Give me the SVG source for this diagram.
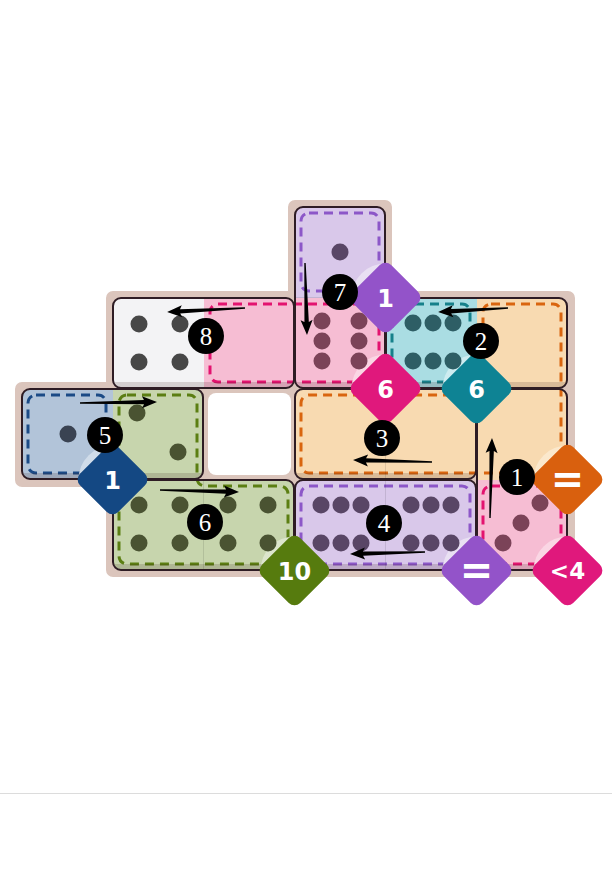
<svg xmlns="http://www.w3.org/2000/svg" width="612" height="873" viewBox="0 0 612 873">
<style>
.dom{fill:none;stroke:#2e1c24;stroke-width:2}
.shade{fill:#3c1e1e;fill-opacity:0.17}
.div{stroke:#000;stroke-opacity:0.1;stroke-width:1}
.dash{fill:none;stroke-width:3;stroke-dasharray:9 6}
.bt{font-family:"DejaVu Sans",sans-serif;font-weight:bold;fill:#fff;text-anchor:middle}
.num{font-family:"Liberation Serif",serif;font-size:25px;fill:#fff;text-anchor:middle}
.arr{fill:#000}
.p-pu{fill:#594666}.p-pk{fill:#7b4358}.p-wh{fill:#474747}.p-te{fill:#2e5e65}.p-bl{fill:#3a4352}.p-gr{fill:#4a5332}
</style>
<defs>
<clipPath id="domclip">
<rect x="295" y="207" width="90" height="181" rx="8"/>
<rect x="113" y="298" width="181" height="90" rx="8"/>
<rect x="386" y="298" width="181" height="90" rx="8"/>
<rect x="22" y="389" width="181" height="90" rx="8"/>
<rect x="295" y="389" width="181" height="90" rx="8"/>
<rect x="477" y="389" width="90" height="181" rx="8"/>
<rect x="113" y="480" width="181" height="90" rx="8"/>
<rect x="295" y="480" width="181" height="90" rx="8"/>
</clipPath>
</defs>
<rect width="612" height="873" fill="#fff"/>
<line x1="0" y1="793.5" x2="612" y2="793.5" stroke="#dcdcdc" stroke-width="1"/>
<g id="board">
<path d="M295,207 H385 V298 H568 V570 H113 V480 H22 V389 H113 V298 H295 Z" fill="#dbc5bc" stroke="#dbc5bc" stroke-width="14" stroke-linejoin="round"/>
</g>
<g id="empty-cell"><rect x="208" y="393" width="83" height="82" rx="8" fill="#fff"/></g>
<g id="regions" clip-path="url(#domclip)">
<g id="cell-plain"><rect x="113" y="298" width="91" height="91" fill="#f3f3f5"/></g>
<g id="region-purple-top">
<rect x="295" y="207" width="91" height="91" fill="#d9c8ea"/>
<rect x="301" y="213" width="78" height="78" rx="8" class="dash" stroke="#8c57c8"/>
<path d="M385.5,297.5 L351.5,297.5 A34,34 0 0 1 385.5,263.5 Z" fill="#e9e0f3"/>
</g>
<g id="region-pink-top">
<rect x="204" y="298" width="182" height="91" fill="#f6bdd3"/>
<rect x="210" y="304" width="169" height="78" rx="8" class="dash" stroke="#e3136f"/>
<path d="M385.5,388.5 L351.5,388.5 A34,34 0 0 1 385.5,354.5 Z" fill="#fad6e4"/>
</g>
<g id="region-teal">
<rect x="386" y="298" width="91" height="91" fill="#aadde3"/>
<rect x="392" y="304" width="78" height="78" rx="8" class="dash" stroke="#16808a"/>
<path d="M476.5,388.5 L442.5,388.5 A34,34 0 0 1 476.5,354.5 Z" fill="#cdecf0"/>
</g>
<g id="region-orange">
<rect x="477" y="298" width="91" height="91" fill="#f8dab1"/>
<rect x="295" y="389" width="273" height="91" fill="#f8dab1"/>
<path d="M491,304 H553 A8,8 0 0 1 561,312 V465 A8,8 0 0 1 553,473 H309 A8,8 0 0 1 301,465 V403 A8,8 0 0 1 309,395 H475 A8,8 0 0 0 483,387 V312 A8,8 0 0 1 491,304 Z" class="dash" stroke="#d9650f"/>
<path d="M567.5,479.5 L533.5,479.5 A34,34 0 0 1 567.5,445.5 Z" fill="#fbe8cc"/>
</g>
<g id="region-blue">
<rect x="22" y="389" width="91" height="91" fill="#b2c4d9"/>
<rect x="28" y="395" width="78" height="78" rx="8" class="dash" stroke="#1b4a86"/>
<path d="M112.5,479.5 L78.5,479.5 A34,34 0 0 1 112.5,445.5 Z" fill="#d0dce9"/>
</g>
<g id="region-green">
<rect x="113" y="389" width="91" height="91" fill="#c7d5ad"/>
<rect x="113" y="480" width="182" height="91" fill="#c7d5ad"/>
<path d="M127,395 H189 A8,8 0 0 1 197,403 V478 A8,8 0 0 0 205,486 H280 A8,8 0 0 1 288,494 V556 A8,8 0 0 1 280,564 H127 A8,8 0 0 1 119,556 V403 A8,8 0 0 1 127,395 Z" class="dash" stroke="#5b7e12"/>
<path d="M294.5,570.5 L260.5,570.5 A34,34 0 0 1 294.5,536.5 Z" fill="#dce5cc"/>
</g>
<g id="region-purple-bottom">
<rect x="295" y="480" width="182" height="91" fill="#d9c8ea"/>
<rect x="301" y="486" width="169" height="78" rx="8" class="dash" stroke="#8c57c8"/>
<path d="M476.5,570.5 L442.5,570.5 A34,34 0 0 1 476.5,536.5 Z" fill="#e9e0f3"/>
</g>
<g id="region-pink-bottom">
<rect x="477" y="480" width="91" height="91" fill="#f6bdd3"/>
<rect x="483" y="486" width="78" height="78" rx="8" class="dash" stroke="#e3136f"/>
<path d="M567.5,570.5 L533.5,570.5 A34,34 0 0 1 567.5,536.5 Z" fill="#fad6e4"/>
</g>
</g>
<g id="dominoes">
<g id="domino-7">
<rect x="295" y="382" width="90" height="6" class="shade" clip-path="url(#domclip)"/>
<line x1="295" y1="297.5" x2="385" y2="297.5" class="div"/>
<rect x="295" y="207" width="90" height="181" rx="8" class="dom"/>
<circle cx="340" cy="252" r="8.5" class="p-pu"/>
<g class="p-pk"><circle cx="322" cy="321" r="8.5"/><circle cx="359" cy="321" r="8.5"/><circle cx="322" cy="341" r="8.5"/><circle cx="359" cy="341" r="8.5"/><circle cx="322" cy="361" r="8.5"/><circle cx="359" cy="361" r="8.5"/></g>
</g>
<g id="domino-8">
<rect x="113" y="382" width="181" height="6" class="shade" clip-path="url(#domclip)"/>
<rect x="113" y="298" width="181" height="90" rx="8" class="dom"/>
<g class="p-wh"><circle cx="139" cy="324" r="8.5"/><circle cx="180" cy="324" r="8.5"/><circle cx="139" cy="362" r="8.5"/><circle cx="180" cy="362" r="8.5"/></g>
</g>
<g id="domino-2">
<rect x="386" y="382" width="181" height="6" class="shade" clip-path="url(#domclip)"/>
<rect x="386" y="298" width="181" height="90" rx="8" class="dom"/>
<g class="p-te"><circle cx="413" cy="323" r="8.5"/><circle cx="433" cy="323" r="8.5"/><circle cx="453" cy="323" r="8.5"/><circle cx="413" cy="361" r="8.5"/><circle cx="433" cy="361" r="8.5"/><circle cx="453" cy="361" r="8.5"/></g>
</g>
<g id="domino-5">
<rect x="22" y="473" width="181" height="6" class="shade" clip-path="url(#domclip)"/>
<rect x="22" y="389" width="181" height="90" rx="8" class="dom"/>
<circle cx="68" cy="434" r="8.5" class="p-bl"/>
<g class="p-gr"><circle cx="137" cy="413" r="8.5"/><circle cx="178" cy="452" r="8.5"/></g>
</g>
<g id="domino-3">
<rect x="295" y="473" width="181" height="6" class="shade" clip-path="url(#domclip)"/>
<line x1="385.5" y1="389" x2="385.5" y2="479" class="div"/>
<rect x="295" y="389" width="181" height="90" rx="8" class="dom"/>
</g>
<g id="domino-1">
<rect x="477" y="564" width="90" height="6" class="shade" clip-path="url(#domclip)"/>
<rect x="477" y="389" width="90" height="181" rx="8" class="dom"/>
<g class="p-pk"><circle cx="540" cy="503" r="8.5"/><circle cx="521" cy="523" r="8.5"/><circle cx="503" cy="543" r="8.5"/></g>
</g>
<g id="domino-6">
<rect x="113" y="564" width="181" height="6" class="shade" clip-path="url(#domclip)"/>
<line x1="203.5" y1="480" x2="203.5" y2="570" class="div"/>
<rect x="113" y="480" width="181" height="90" rx="8" class="dom"/>
<g class="p-gr"><circle cx="139" cy="505" r="8.5"/><circle cx="180" cy="505" r="8.5"/><circle cx="139" cy="543" r="8.5"/><circle cx="180" cy="543" r="8.5"/><circle cx="228" cy="505" r="8.5"/><circle cx="268" cy="505" r="8.5"/><circle cx="228" cy="543" r="8.5"/><circle cx="268" cy="543" r="8.5"/></g>
</g>
<g id="domino-4">
<rect x="295" y="564" width="181" height="6" class="shade" clip-path="url(#domclip)"/>
<line x1="385.5" y1="480" x2="385.5" y2="570" class="div"/>
<rect x="295" y="480" width="181" height="90" rx="8" class="dom"/>
<g class="p-pu"><circle cx="321" cy="505" r="8.5"/><circle cx="341" cy="505" r="8.5"/><circle cx="361" cy="505" r="8.5"/><circle cx="321" cy="543" r="8.5"/><circle cx="341" cy="543" r="8.5"/><circle cx="361" cy="543" r="8.5"/><circle cx="411" cy="505" r="8.5"/><circle cx="431" cy="505" r="8.5"/><circle cx="451" cy="505" r="8.5"/><circle cx="411" cy="543" r="8.5"/><circle cx="431" cy="543" r="8.5"/><circle cx="451" cy="543" r="8.5"/></g>
</g>
</g>
<g id="constraints">
<g id="badge-purple-top"><rect x="-27" y="-27" width="54" height="54" rx="8" fill="#9353c9" transform="translate(385.5,297.5) rotate(45)"/><text x="385.5" y="306.5" class="bt" font-size="24">1</text></g>
<g id="badge-pink-top"><rect x="-27" y="-27" width="54" height="54" rx="8" fill="#e0187c" transform="translate(385.5,388.5) rotate(45)"/><text x="385.5" y="397.5" class="bt" font-size="24">6</text></g>
<g id="badge-teal"><rect x="-27" y="-27" width="54" height="54" rx="8" fill="#0e8394" transform="translate(476.5,388.5) rotate(45)"/><text x="476.5" y="397.5" class="bt" font-size="24">6</text></g>
<g id="badge-orange"><rect x="-27" y="-27" width="54" height="54" rx="8" fill="#d9600e" transform="translate(567.5,479.5) rotate(45)"/><text x="567.5" y="493" class="bt" font-size="40">=</text></g>
<g id="badge-blue"><rect x="-27" y="-27" width="54" height="54" rx="8" fill="#144883" transform="translate(112.5,479.5) rotate(45)"/><text x="112.5" y="488.5" class="bt" font-size="24">1</text></g>
<g id="badge-green"><rect x="-27" y="-27" width="54" height="54" rx="8" fill="#567b0e" transform="translate(294.5,570.5) rotate(45)"/><text x="294.5" y="579.5" class="bt" font-size="24">10</text></g>
<g id="badge-purple-bottom"><rect x="-27" y="-27" width="54" height="54" rx="8" fill="#9353c9" transform="translate(476.5,570.5) rotate(45)"/><text x="476.5" y="584" class="bt" font-size="40">=</text></g>
<g id="badge-pink-bottom"><rect x="-27" y="-27" width="54" height="54" rx="8" fill="#e0187c" transform="translate(567.5,570.5) rotate(45)"/><text x="567.5" y="579" class="bt" font-size="23">&lt;4</text></g>
</g>
<g id="steps">
<g id="step-7"><circle cx="340" cy="292" r="18"/><text x="340" y="300.5" class="num">7</text></g>
<g id="step-8"><circle cx="206" cy="336" r="18"/><text x="206" y="344.5" class="num">8</text></g>
<g id="step-2"><circle cx="481" cy="341" r="18"/><text x="481" y="349.5" class="num">2</text></g>
<g id="step-5"><circle cx="105" cy="435" r="18"/><text x="105" y="443.5" class="num">5</text></g>
<g id="step-3"><circle cx="382" cy="438" r="18"/><text x="382" y="446.5" class="num">3</text></g>
<g id="step-1"><circle cx="517" cy="477" r="18"/><text x="517" y="485.5" class="num">1</text></g>
<g id="step-6"><circle cx="205" cy="522" r="18"/><text x="205" y="530.5" class="num">6</text></g>
<g id="step-4"><circle cx="384" cy="523" r="18"/><text x="384" y="531.5" class="num">4</text></g>
</g>
<g id="connectors">
<path class="arr" transform="translate(245,308) rotate(177.06)" d="M0,-0.7 L65,-2.2 L63,-6 L78,0 L63,6 L65,2.2 L0,0.7 Z"/>
<path class="arr" transform="translate(305,263) rotate(88.41)" d="M0,-0.7 L59,-2.2 L57,-6 L72,0 L57,6 L59,2.2 L0,0.7 Z"/>
<path class="arr" transform="translate(508,308) rotate(176.73)" d="M0,-0.7 L57,-2.2 L55,-6 L70,0 L55,6 L57,2.2 L0,0.7 Z"/>
<path class="arr" transform="translate(80,403) rotate(-0.74)" d="M0,-0.7 L64,-2.2 L62,-6 L77,0 L62,6 L64,2.2 L0,0.7 Z"/>
<path class="arr" transform="translate(432,462) rotate(181.45)" d="M0,-0.7 L66,-2.2 L64,-6 L79,0 L64,6 L66,2.2 L0,0.7 Z"/>
<path class="arr" transform="translate(490,518) rotate(-88.57)" d="M0,-0.7 L67,-2.2 L65,-6 L80,0 L65,6 L67,2.2 L0,0.7 Z"/>
<path class="arr" transform="translate(160,490) rotate(1.45)" d="M0,-0.7 L66,-2.2 L64,-6 L79,0 L64,6 L66,2.2 L0,0.7 Z"/>
<path class="arr" transform="translate(425,552) rotate(178.47)" d="M0,-0.7 L62,-2.2 L60,-6 L75,0 L60,6 L62,2.2 L0,0.7 Z"/>
</g>
</svg>
